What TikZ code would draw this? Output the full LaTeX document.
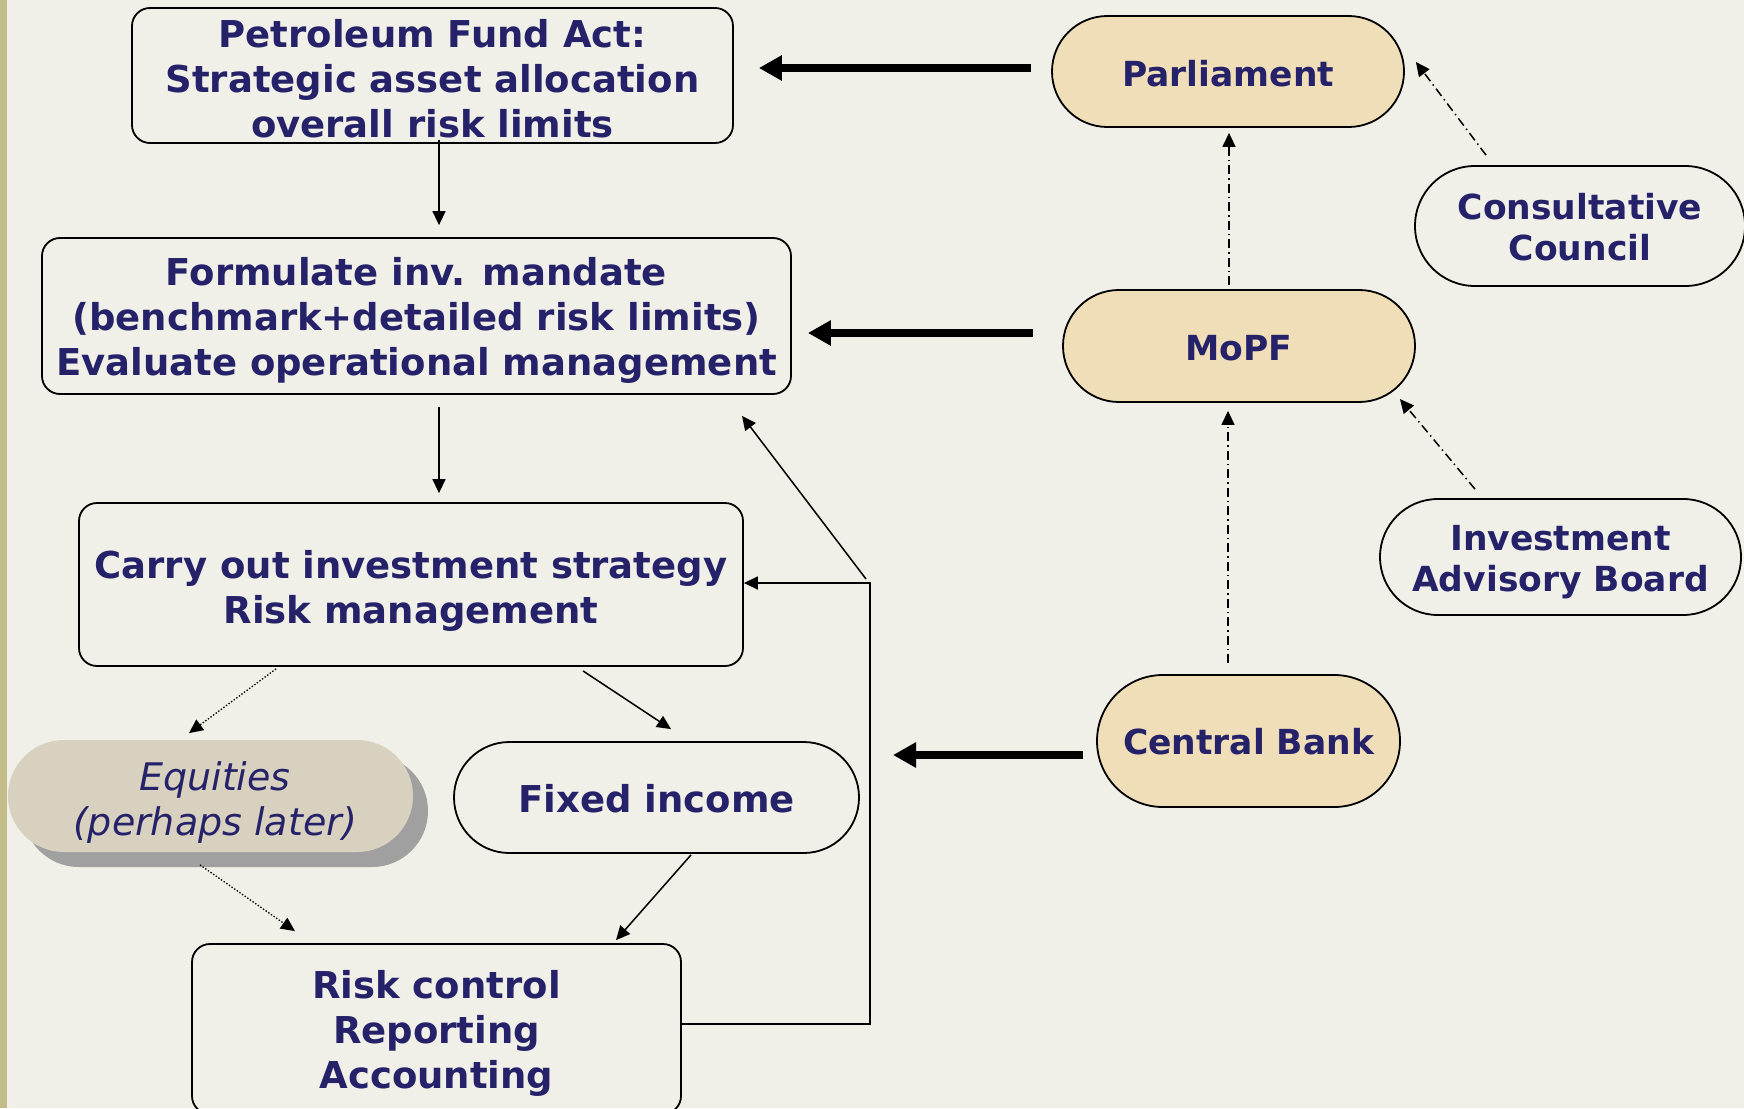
\documentclass[tikz,border=0pt]{standalone}
\usepackage{fontspec}
\setmainfont{DejaVu Sans}
\usetikzlibrary{arrows.meta}
\definecolor{bg}{HTML}{F0EFE8}
\definecolor{navy}{HTML}{25226A}
\definecolor{tanfill}{HTML}{EFDEB8}
\definecolor{olivestrip}{HTML}{C2BC88}
\definecolor{eqfill}{HTML}{D8D1BF}
\definecolor{eqshadow}{HTML}{A0A0A0}
\begin{document}
\begin{tikzpicture}[x=1pt,y=-1pt,
  lbl/.style={align=center, text=navy, font=\fontsize{37}{45}\selectfont\bfseries, inner sep=0pt},
  rightfont/.style={font=\fontsize{34.5}{41}\selectfont\bfseries},
  rbox/.style 2 args={draw=black, line width=1.8pt, rounded corners=18pt, minimum width=#1, minimum height=#2, inner sep=0pt},
  capsule/.style n args={3}{draw=black, line width=1.8pt, rounded corners=#3, minimum width=#1, minimum height=#2, inner sep=0pt},
  tancap/.style n args={3}{capsule={#1}{#2}{#3}, fill=tanfill},
  thinarrow/.style={draw=black, line width=1.5pt, -{Triangle[length=14pt,width=13pt]}},
  bigarrow/.style={draw=black, line width=7.5pt, -{Triangle[length=23pt,width=24pt]}},
  dashdot/.style={draw=black, line width=1.5pt, dash pattern=on 9pt off 4pt on 1.5pt off 4pt, -{Triangle[length=14pt,width=13pt]}},
  dotarrow/.style={draw=black, line width=1.3pt, dash pattern=on 1.4pt off 1.8pt, -{Triangle[length=14pt,width=13pt]}},
]
\useasboundingbox (0,0) rectangle (1744,1108);
\fill[bg] (0,0) rectangle (1744,1108);
\fill[olivestrip] (0,0) rectangle (7,1108);
\fill[white!80!olivestrip] (7,0) rectangle (8.5,1108);

% left column boxes
\node[rbox={601pt}{135pt}] (pfa) at (432.5,75.5) {};
\node[lbl] (pfa-t) at ([shift={(0,3.5)}]pfa.center) {Petroleum Fund Act:\\Strategic asset allocation\\overall risk limits};
\node[rbox={749pt}{156pt}] (form) at (416.5,316) {};
\node[lbl] (form-t) at ([shift={(0,4.5)}]form.center) {Formulate inv. mandate\\(benchmark+detailed risk limits)\\Evaluate operational management};
\node[rbox={664pt}{163pt}] (carry) at (411,584.5) {};
\node[lbl] (carry-t) at ([shift={(0,6)}]carry.center) {Carry out investment strategy\\Risk management};
\node[capsule={405pt}{112pt}{55.9pt}, draw=none, fill=eqshadow] (eqsh) at (225.5,811) {};
\node[capsule={405pt}{112pt}{55.9pt}, draw=none, fill=eqfill] (eq) at (210.5,796) {};
\node[lbl, font=\fontsize{38}{45}\selectfont\itshape] (eq-t) at ([shift={(4.5,6.5)}]eq.center) {Equities\\(perhaps later)};
\node[capsule={405pt}{111pt}{55.4pt}] (fixed) at (656.5,797.5) {};
\node[lbl] (fixed-t) at ([shift={(0,1)}]fixed.center) {Fixed income};
\node[rbox={489pt}{170pt}] (risk) at (436.5,1029) {};
\node[lbl] (risk-t) at ([shift={(0,4)}]risk.center) {Risk control\\Reporting\\Accounting};

% right column capsules
\node[tancap={352pt}{111pt}{55.4pt}] (par) at (1228,71.5) {};
\node[lbl, rightfont] (par-t) at ([shift={(0,2)}]par.center) {Parliament};
\node[capsule={330pt}{120pt}{59.9pt}] (cc) at (1580,226) {};
\node[lbl, rightfont] (cc-t) at ([shift={(0,1.5)}]cc.center) {Consultative\\Council};
\node[tancap={352pt}{112pt}{55.9pt}] (mopf) at (1239,346) {};
\node[lbl, rightfont] (mopf-t) at ([shift={(0,2)}]mopf.center) {MoPF};
\node[capsule={361pt}{116pt}{57.9pt}] (iab) at (1560.5,557) {};
\node[lbl, rightfont] (iab-t) at ([shift={(0,5.6)}]iab.center) {Investment\\Advisory Board};
\node[tancap={303pt}{132pt}{65.9pt}] (cb) at (1248.5,741) {};
\node[lbl, rightfont] (cb-t) at ([shift={(0,1)}]cb.center) {Central Bank};

\coordinate (fbx) at (870,583);
\coordinate (cbtip) at (893,755);

% thick arrows
\draw[bigarrow] ([shift={(-20,-3.5)}]par.west) -- ([shift={(25,-7.5)}]pfa.east);
\draw[bigarrow] ([shift={(-29,-13)}]mopf.west) -- ([shift={(16,17)}]form.east);
\draw[bigarrow] ([shift={(-13,14)}]cb.west) -- (cbtip);

% thin arrows, left flow
\draw[thinarrow] ([shift={(6.5,-4)}]pfa.south) -- ([shift={(22.5,-12)}]form.north);
\draw[thinarrow] ([shift={(22.5,12)}]form.south) -- ([shift={(28,-9)}]carry.north);
\draw[dotarrow] ([shift={(-135,2)}]carry.south) -- ([shift={(-21.5,-6)}]eq.north);
\draw[thinarrow] ([shift={(172,4)}]carry.south) -- ([shift={(14.5,-12)}]fixed.north);
\draw[dotarrow] ([shift={(-10.5,12)}]eq.south) -- ([shift={(-141.5,-12)}]risk.north);
\draw[thinarrow] ([shift={(34.5,1)}]fixed.south) -- ([shift={(179.5,-3)}]risk.north);
\draw[thinarrow] ([shift={(0,-5)}]risk.east) -| (fbx) -- ([shift={(0,-1.5)}]carry.east);
\draw[thinarrow] ([shift={(-4,-4)}]fbx) -- ([shift={(325.5,21)}]form.south);

% dash-dot arrows, right side
\draw[dashdot] ([shift={(-10,-4)}]mopf.north) -- ([shift={(1,5)}]par.south);
\draw[dashdot] ([shift={(-20.5,-11)}]cb.north) -- ([shift={(-11,8)}]mopf.south);
\draw[dashdot] ([shift={(-94,-10)}]cc.north) -- ([shift={(11,-9.5)}]par.east);
\draw[dashdot] ([shift={(-85.5,-9)}]iab.north) -- ([shift={(-16,53)}]mopf.east);
\end{tikzpicture}
\end{document}
